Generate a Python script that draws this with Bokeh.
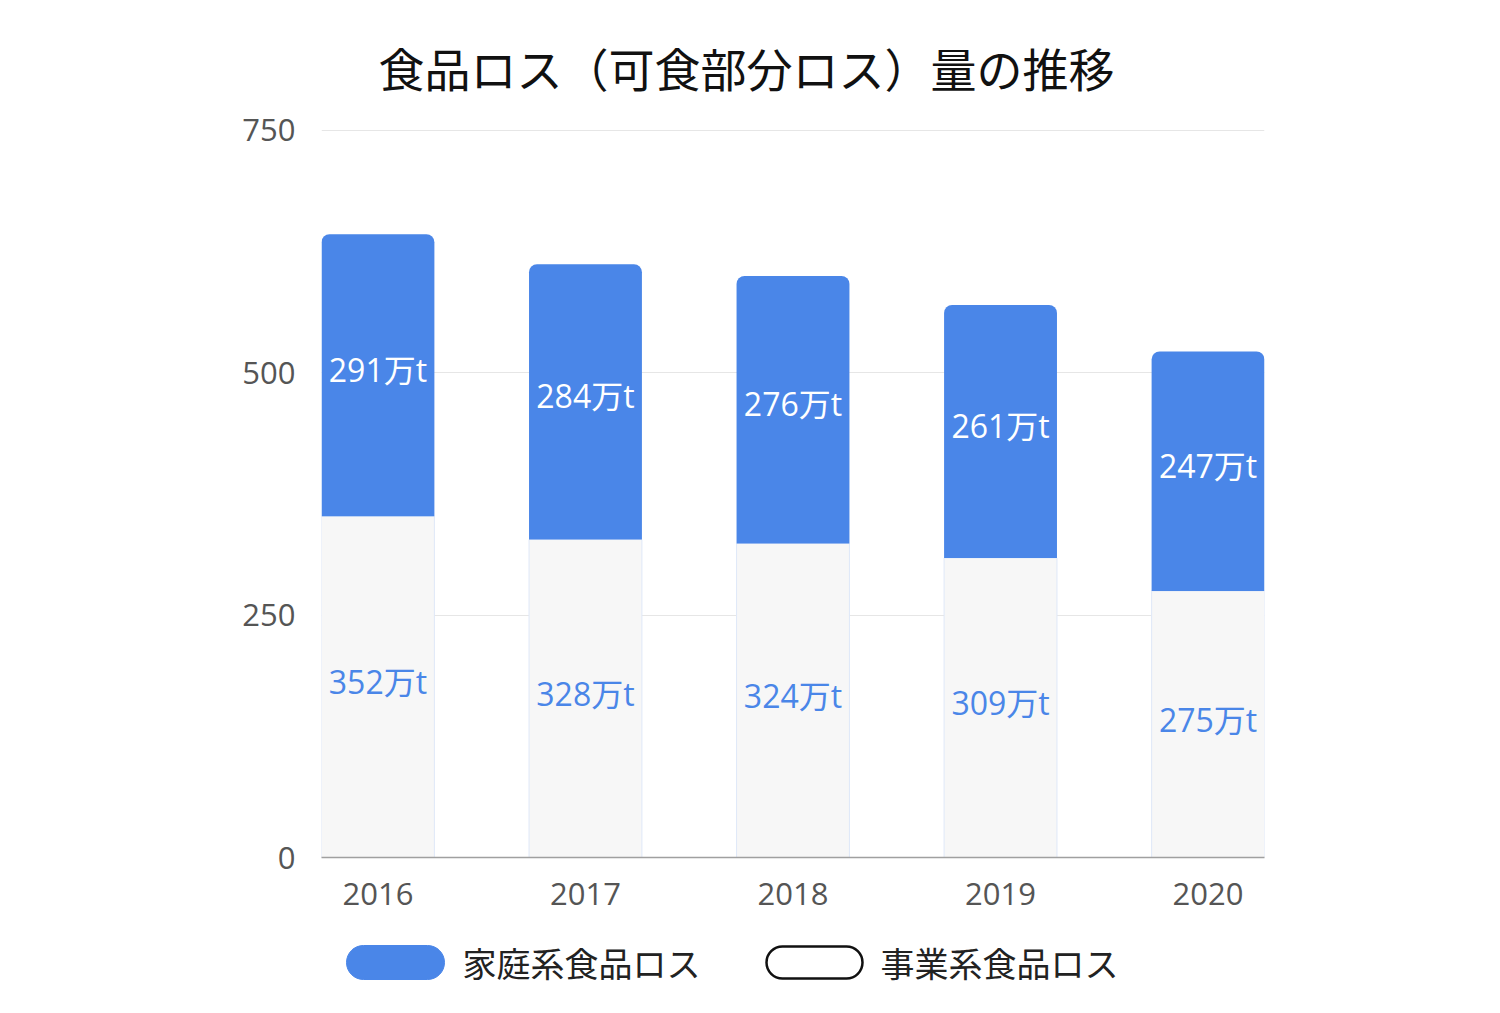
from bokeh.plotting import figure
from bokeh.layouts import column
from bokeh.models import ColumnDataSource, FixedTicker, Range1d
from bokeh.core.properties import value
from bokeh.embed import file_html
from bokeh.resources import INLINE

# ---- data ----
years = [2016, 2017, 2018, 2019, 2020]
household = [291, 284, 276, 261, 247]   # 家庭系食品ロス (万t)
business = [352, 328, 324, 309, 275]    # 事業系食品ロス (万t)
y_ticks = [0, 250, 500, 750]
title_text = "食品ロス（可食部分ロス）量の推移"
series_names = ["家庭系食品ロス", "事業系食品ロス"]

total = [b + h for b, h in zip(business, household)]
src = ColumnDataSource(dict(
    x=years,
    business=business,
    household=household,
    total=total,
    bus_mid=[b / 2 for b in business],
    hh_mid=[b + h / 2 for b, h in zip(business, household)],
    bus_lbl=[f"{v}万t" for v in business],
    hh_lbl=[f"{v}万t" for v in household],
))

NUM_FONT = "'Open Sans', 'Noto Sans CJK JP'"
JP_FONT = "'Noto Sans CJK JP'"
BLUE = "#4a86e8"

LEFT, RIGHT = 321, 236
bar_w = 0.544
p = figure(width=1500, height=930,
           x_range=Range1d(years[0] - bar_w / 2, years[-1] + bar_w / 2),
           y_range=Range1d(0, 751),
           output_backend="svg", toolbar_location=None,
           min_border_left=LEFT, min_border_right=RIGHT,
           min_border_top=129, min_border_bottom=73)
p.outline_line_color = None
p.background_fill_color = "white"
p.border_fill_color = "white"

p.title.text = title_text
p.title.align = "left"
p.title.offset = 57
p.title.text_font = JP_FONT
p.title.text_font_size = "46px"
p.title.text_font_style = "normal"
p.title.text_color = "#111111"
p.title.standoff = 60

# axes
p.yaxis.ticker = FixedTicker(ticks=y_ticks)
p.yaxis.axis_line_color = None
p.yaxis.major_tick_line_color = None
p.yaxis.minor_tick_line_color = None
p.yaxis.major_label_text_font = NUM_FONT
p.yaxis.major_label_text_font_size = "31px"
p.yaxis.major_label_text_color = "#555555"
p.yaxis.major_label_standoff = 20

p.xaxis.ticker = FixedTicker(ticks=years)
p.xaxis.major_label_overrides = {y: str(y) for y in years}
p.xaxis.axis_line_color = "#a0a0a0"
p.xaxis.axis_line_width = 1.5
p.xaxis.major_tick_line_color = None
p.xaxis.minor_tick_line_color = None
p.xaxis.major_label_text_font = NUM_FONT
p.xaxis.major_label_text_font_size = "31px"
p.xaxis.major_label_text_color = "#555555"
p.xaxis.major_label_standoff = 19

p.xgrid.grid_line_color = None
p.ygrid.ticker = FixedTicker(ticks=y_ticks)
p.ygrid.grid_line_color = "#e6e6e6"
p.ygrid.grid_line_width = 1.2

# bars
p.vbar(x="x", width=bar_w, bottom=0, top="business", source=src,
       fill_color="#f7f7f7", line_color="#dfe8f8", line_width=1)
p.vbar(x="x", width=bar_w, bottom="business", top="total", source=src,
       fill_color=BLUE, line_color=None, border_radius=(8, 8, 0, 0))

# labels
p.text(x="x", y="bus_mid", text="bus_lbl", source=src, y_offset=-5,
       text_align="center", text_baseline="middle",
       text_font=value(NUM_FONT), text_font_size="32px", text_color=BLUE)
p.text(x="x", y="hh_mid", text="hh_lbl", source=src, y_offset=-6,
       text_align="center", text_baseline="middle",
       text_font=value(NUM_FONT), text_font_size="32px", text_color="white")

# legend strip: same horizontal frame as the chart, so data units = pixels
lg = figure(width=1500, height=83,
            x_range=Range1d(LEFT, 1500 - RIGHT), y_range=Range1d(83, 0),
            output_backend="svg", toolbar_location=None,
            min_border_left=LEFT, min_border_right=RIGHT,
            min_border_top=0, min_border_bottom=0)
lg.axis.visible = False
lg.grid.visible = False
lg.outline_line_color = None
lg.quad(left=[346], right=[444], top=[15], bottom=[49],
        fill_color=BLUE, line_color=BLUE, border_radius=17)
lg.quad(left=[766], right=[862], top=[16], bottom=[48],
        fill_color="white", line_color="#111111", line_width=2.5, border_radius=16)
lg.text(x=[462, 880], y=[32, 32], text=series_names,
        text_align="left", text_baseline="middle",
        text_font=value(JP_FONT), text_font_size="34px", text_color="#222222")

layout = column(p, lg, spacing=0)
open("out.html", "w").write(file_html(layout, INLINE))
